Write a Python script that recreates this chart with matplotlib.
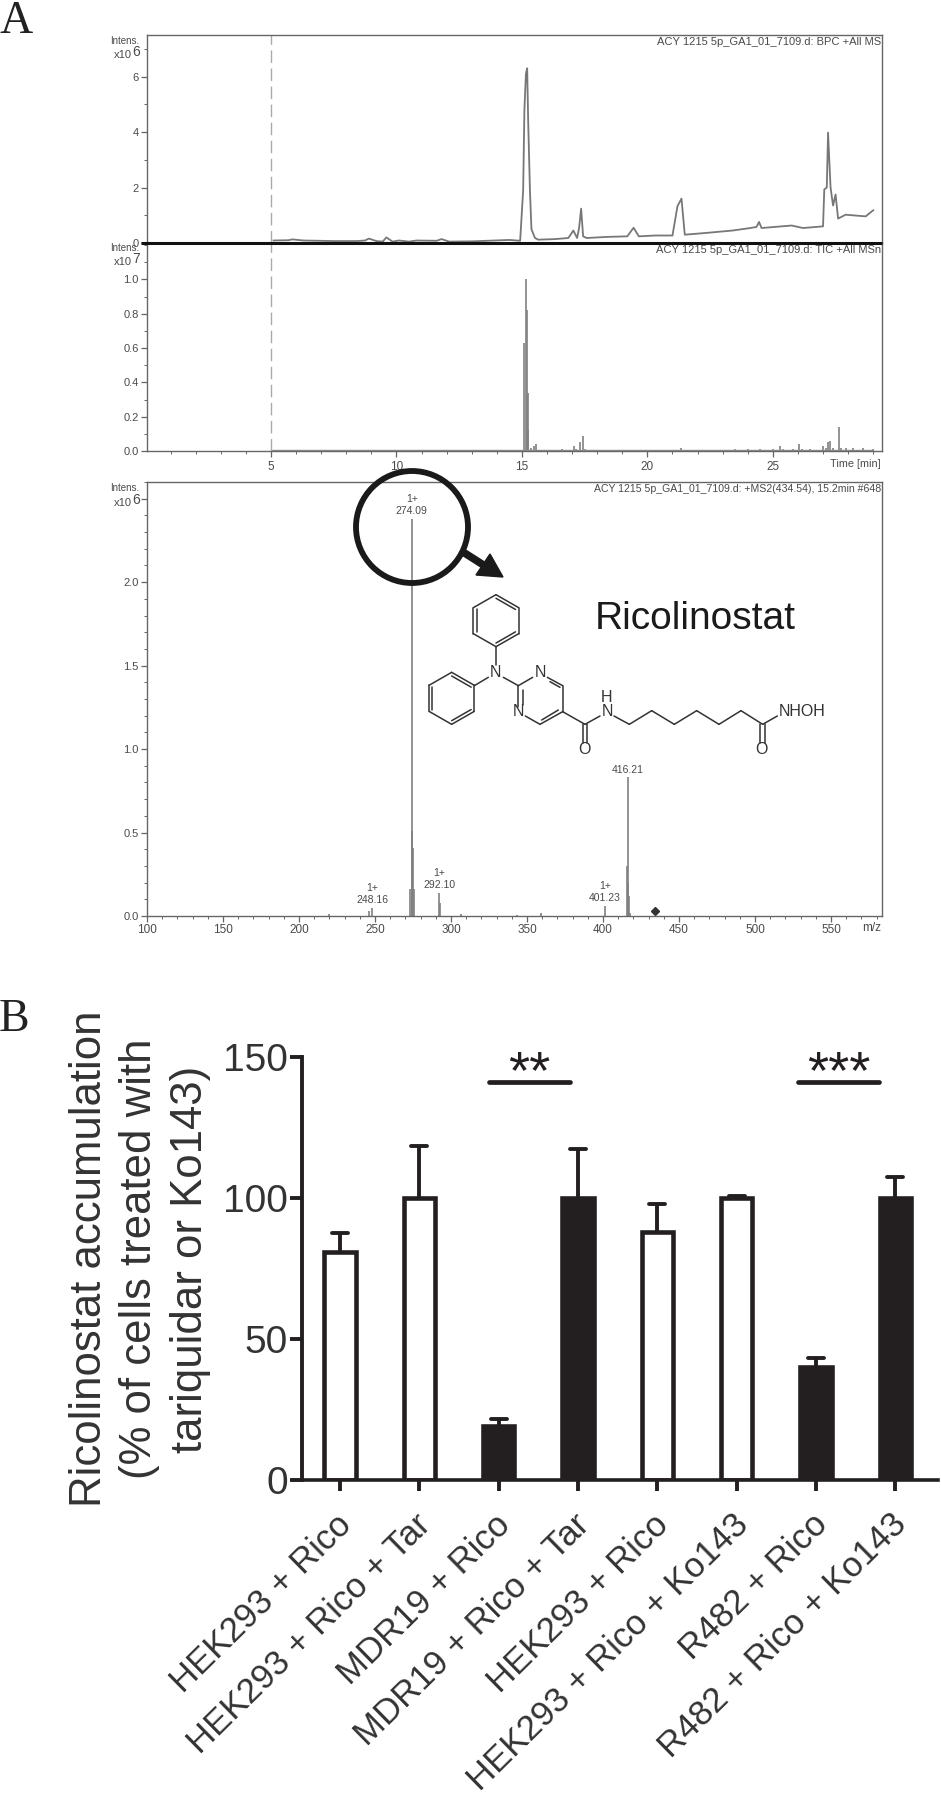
import matplotlib
matplotlib.use('Agg')
import matplotlib.pyplot as plt
from matplotlib.patches import Circle, Polygon
from matplotlib.ticker import MultipleLocator
from matplotlib.transforms import ScaledTranslation

W, H = 941, 1800
GREY = '#777777'
AXC = '#666666'
TXT = '#4a4a4a'
DARK = '#231f20'

plt.rcParams['font.family'] = ['Liberation Sans', 'DejaVu Sans']

# base peak chromatogram
bpc_t = [5.1, 5.7, 5.85, 6.3, 7.5, 8.4, 8.75, 8.9, 9.2, 9.45, 9.6, 9.85, 10.1, 10.5, 10.8, 11.6, 11.8, 12.1,
         13.0, 14.5, 14.93, 15.05, 15.1, 15.16, 15.21, 15.25, 15.32, 15.38, 15.52, 15.65, 16.3, 16.85, 17.05,
         17.2, 17.28, 17.36, 17.44, 17.58, 18.4, 19.2, 19.45, 19.66, 20.3, 21.0, 21.2, 21.36, 21.49, 22.3,
         23.4, 24.1, 24.35, 24.45, 24.55, 25.75, 26.2, 27.0, 27.05, 27.15, 27.2, 27.3, 27.4, 27.5, 27.6, 27.9,
         28.7, 29.0]
bpc_v = [0.09, 0.1, 0.13, 0.09, 0.07, 0.07, 0.09, 0.16, 0.07, 0.05, 0.2, 0.05, 0.09, 0.05, 0.09, 0.08, 0.14, 0.05,
         0.06, 0.11, 0.08, 1.9, 4.8, 6.1, 6.3, 4.4, 1.9, 0.5, 0.18, 0.12, 0.14, 0.18, 0.45,
         0.18, 0.55, 1.24, 0.24, 0.18, 0.22, 0.24, 0.55, 0.24, 0.27, 0.27, 1.33, 1.6, 0.3, 0.36,
         0.45, 0.54, 0.58, 0.76, 0.54, 0.63, 0.54, 0.6, 1.93, 2.0, 3.98, 2.0, 1.35, 1.75, 0.88, 1.02,
         0.96, 1.18]

# total ion chromatogram
tic_t = [5.1, 5.5, 6.0, 6.5, 7.0, 7.5, 8.0, 8.5, 9.0, 9.5, 10.0, 10.5, 11.0, 11.5, 12.0, 12.5, 13.0, 13.5, 14.0,
         14.5, 15.0, 15.1, 15.16, 15.19, 15.23, 15.26, 15.35, 15.47, 15.55, 15.8, 16.2, 16.6, 17.08, 17.15, 17.3,
         17.42, 17.5, 17.8, 18.3, 18.8, 19.3, 19.8, 20.3, 20.8, 21.35, 21.5, 22.0, 22.5, 23.0, 23.5, 24.0, 24.5,
         25.0, 25.3, 25.4, 25.8, 26.05, 26.15, 26.5, 26.98, 27.1, 27.2, 27.29, 27.4, 27.63, 27.7, 27.9, 28.2,
         28.6, 29.0]
tic_v = [0.006, 0.007, 0.006, 0.008, 0.006, 0.007, 0.006, 0.008, 0.007, 0.006, 0.008, 0.006, 0.007, 0.008, 0.006,
         0.007, 0.008, 0.006, 0.007, 0.006, 0.008, 0.63, 1.0, 0.82, 0.34, 0.12, 0.02, 0.03, 0.04, 0.008, 0.007,
         0.01, 0.03, 0.012, 0.05, 0.085, 0.012, 0.008, 0.007, 0.008, 0.007, 0.008, 0.007, 0.008, 0.016, 0.008,
         0.007, 0.008, 0.007, 0.012, 0.011, 0.012, 0.011, 0.03, 0.012, 0.011, 0.04, 0.012, 0.012, 0.03, 0.02,
         0.055, 0.06, 0.02, 0.14, 0.02, 0.016, 0.016, 0.016, 0.012]

# ms2 spectrum
ms_mz = [219.8, 246.2, 248.16, 273.3, 274.09, 274.4, 275.3, 275.6, 292.1, 292.7, 306.8, 343.6, 359.0, 401.23,
         415.5, 416.21, 416.5, 417.2, 417.8]
ms_int = [0.01, 0.03, 0.05, 0.16, 2.38, 0.51, 0.41, 0.16, 0.14, 0.08, 0.01, 0.008, 0.018, 0.06,
          0.3, 0.83, 0.2, 0.12, 0.02]
ms_labels = [('1+\n248.16', 248.16), ('1+\n292.10', 292.1), ('1+\n401.23', 401.23)]
precursor_mz = 433.9
precursor_int = 0.03

# bar chart
bar_names = ['HEK293 + Rico', 'HEK293 + Rico + Tar', 'MDR19 + Rico', 'MDR19 + Rico + Tar',
             'HEK293 + Rico', 'HEK293 + Rico + Ko143', 'R482 + Rico', 'R482 + Rico + Ko143']
bar_vals = [81, 100, 19, 100, 88, 100, 40, 100]
bar_tops = [87.6, 118.4, 21.5, 117.5, 98, 100.7, 43.3, 107.4]
bar_dark = [False, False, True, True, False, False, True, True]

fig = plt.figure(figsize=(W / 100, H / 100), dpi=100, facecolor='white')


def px_axes(left, top, right, bottom):
    return fig.add_axes([left / W, 1 - bottom / H, (right - left) / W, (bottom - top) / H])


def ms_style(ax):
    for s in ax.spines.values():
        s.set_color(AXC)
        s.set_linewidth(1.0)
    ax.tick_params(which='major', length=4, width=0.9, color=AXC, labelcolor=TXT, labelsize=8, pad=2)
    ax.tick_params(which='minor', length=2, width=0.7, color=AXC)


# top chromatogram
ax1 = px_axes(147, 35, 882, 243)
ms_style(ax1)
ax1.plot(bpc_t, bpc_v, color=GREY, lw=1.3)
ax1.set_xlim(0.06, 29.35)
ax1.set_ylim(0, 7.5)
ax1.set_xticks([])
ax1.set_yticks([0, 2, 4, 6])
ax1.yaxis.set_minor_locator(MultipleLocator(1))
ax1.axvline(5, color='#aaaaaa', lw=1, dashes=(9, 4))

# middle chromatogram
ax2 = px_axes(147, 243, 882, 451)
ms_style(ax2)
ax2.vlines(tic_t, 0, tic_v, color='#808080', lw=1.2)
ax2.plot([tic_t[0], tic_t[-1]], [min(tic_v), min(tic_v)], color='#909090', lw=1.0)
ax2.set_xlim(0.06, 29.35)
ax2.set_ylim(0, 1.212)
ax2.set_xticks([5, 10, 15, 20, 25])
ax2.xaxis.set_minor_locator(MultipleLocator(1))
ax2.set_yticks([0, 0.2, 0.4, 0.6, 0.8, 1.0])
ax2.set_yticklabels(['0.0', '0.2', '0.4', '0.6', '0.8', '1.0'])
ax2.yaxis.set_minor_locator(MultipleLocator(0.1))
ax2.axvline(5, color='#aaaaaa', lw=1, dashes=(9, 4))
ax2.spines['top'].set_visible(False)
ax2.tick_params(axis='x', pad=3, labelsize=8.5)

# spectrum
ax3 = px_axes(147, 482, 882, 916)
ms_style(ax3)
ax3.vlines(ms_mz, 0, ms_int, color='#808080', lw=1.2)
ax3.plot([precursor_mz], [precursor_int], marker='D', ms=4.5, color='#333333', ls='none')
ax3.set_xlim(100, 583.5)
ax3.set_ylim(0, 2.6)
ax3.set_xticks(range(100, 551, 50))
ax3.xaxis.set_minor_locator(MultipleLocator(10))
ax3.set_yticks([0, 0.5, 1, 1.5, 2, 2.5])
ax3.set_yticklabels(['0.0', '0.5', '1.0', '1.5', '2.0', ''])
ax3.yaxis.set_minor_locator(MultipleLocator(0.1))
ax3.tick_params(axis='x', pad=2, labelsize=8.5)
for lab, mz in ms_labels:
    y = ms_int[ms_mz.index(mz)]
    ax3.annotate(lab, (mz, y), xytext=(0, 2), textcoords='offset points', ha='center', va='bottom',
                 fontsize=7.5, color=TXT, linespacing=1.25)
ax3.annotate('1+\n274.09', (274.09, 2.38), xytext=(0, 2), textcoords='offset points', ha='center', va='bottom',
             fontsize=7.5, color=TXT, linespacing=1.25)
ax3.annotate('416.21', (416.21, 0.83), xytext=(0, 2), textcoords='offset points', ha='center', va='bottom',
             fontsize=7.5, color=TXT)

# bars
ax4 = px_axes(302, 1057, 938, 1480)
ax4.set_xlim(0.52, 8.54)
ax4.set_ylim(0, 150)
xs = list(range(1, 9))
for x, v, top, dark in zip(xs, bar_vals, bar_tops, bar_dark):
    ax4.plot([x, x], [v, top], color=DARK, lw=2.8, solid_capstyle='butt', zorder=1)
    ax4.plot([x - 0.1, x + 0.1], [top, top], color=DARK, lw=2.8, solid_capstyle='round', zorder=1)
    ax4.bar(x, v, width=0.395, facecolor=DARK if dark else 'white', edgecolor=DARK, linewidth=3.3, zorder=2)
for s in ['top', 'right']:
    ax4.spines[s].set_visible(False)
ax4.spines['left'].set_linewidth(2.8)
ax4.spines['bottom'].set_linewidth(2.6)
ax4.spines['left'].set_color(DARK)
ax4.spines['bottom'].set_color(DARK)
ax4.set_yticks([0, 50, 100, 150])
ax4.set_xticks(xs)
ax4.set_xticklabels(bar_names, rotation=44.5, ha='right', rotation_mode='anchor', fontsize=25, color='#333333')
ax4.tick_params(axis='y', length=9, width=2.8, labelsize=28, labelcolor='#333333', color=DARK, pad=1)
ax4.tick_params(axis='x', length=8, width=2.8, color=DARK, pad=12)
# tick_params resets the label transform, so the shift has to come after it
shift = ScaledTranslation(-5 / 100, 0, fig.dpi_scale_trans)
for lab in ax4.get_xticklabels():
    lab.set_transform(lab.get_transform() + shift)
ax4.plot([2.88, 3.90], [141.2, 141.2], color=DARK, lw=3.4, solid_capstyle='round', clip_on=False)
ax4.plot([6.78, 7.79], [141.2, 141.2], color=DARK, lw=3.4, solid_capstyle='round', clip_on=False)
ax4.text(3.39, 144, '**', ha='center', va='center', fontsize=39, color=DARK)
ax4.text(7.29, 144, '***', ha='center', va='center', fontsize=39, color=DARK)

# overlay in pixel coordinates for the annotations
ov = fig.add_axes([0, 0, 1, 1], zorder=10)
ov.set_xlim(0, W)
ov.set_ylim(H, 0)
ov.axis('off')
ov.patch.set_alpha(0)

ov.text(140, 1259, 'Ricolinostat accumulation\n(% of cells treated with\ntariquidar or Ko143)',
        fontsize=31.5, color='#333333', linespacing=1.3, rotation=90, ha='center', va='center', multialignment='center')

ov.plot([141, 882], [243, 243], color='#111111', lw=2.2, solid_capstyle='butt')

ov.text(16, 22, 'A', family='Liberation Serif', fontsize=33, color='#222222', ha='center', va='center')
ov.text(14, 1020, 'B', family='Liberation Serif', fontsize=33, color='#222222', ha='center', va='center')

for y1, y2, exp in [(41, 55, '6'), (248, 262, '7'), (488, 503, '6')]:
    ov.text(139, y1, 'Intens.', fontsize=7, color=TXT, ha='right', va='center')
    ov.text(132, y2, 'x10', fontsize=8, color=TXT, ha='right', va='center')
    ov.text(132, y2 - 3, exp, fontsize=10, color=TXT, ha='left', va='center')

ov.text(881, 42, 'ACY 1215 5p_GA1_01_7109.d: BPC +All MS', fontsize=8, color=TXT, ha='right', va='center')
ov.text(881, 250, 'ACY 1215 5p_GA1_01_7109.d: TIC +All MSn', fontsize=8, color=TXT, ha='right', va='center')
ov.text(881, 489, 'ACY 1215 5p_GA1_01_7109.d: +MS2(434.54), 15.2min #648', fontsize=7.6, color=TXT, ha='right', va='center')
ov.text(881, 464, 'Time [min]', fontsize=7.8, color=TXT, ha='right', va='center')
ov.text(881, 928, 'm/z', fontsize=8.5, color=TXT, ha='right', va='center')

# magnifier
ov.add_patch(Circle((412, 527), 56, fill=False, ec='#1a1a1a', lw=4.2))
ov.plot([463, 485], [552, 566], color='#1a1a1a', lw=5.5, solid_capstyle='butt')
ov.add_patch(Polygon([(476, 575), (490, 554), (503, 577)], closed=True, fc='#1a1a1a', ec='#1a1a1a'))

ov.text(595, 629, 'Ricolinostat', fontsize=28, color='#1a1a1a', ha='left', va='baseline')


# structure drawing, coordinates from the crop of the reference
def sx(z):
    return 340 + z / 3


def sy(z):
    return 460 + z / 3


def bond(a, b, lw=1.1):
    ov.plot([sx(a[0]), sx(b[0])], [sy(a[1]), sy(b[1])], color='#333333', lw=lw, solid_capstyle='round')


def inner(a, b, c=None, off=0.14):
    # short second line of a double bond, pulled toward the ring centre
    ax_, ay_ = a[0] + (c[0] - a[0]) * off, a[1] + (c[1] - a[1]) * off
    bx_, by_ = b[0] + (c[0] - b[0]) * off, b[1] + (c[1] - b[1]) * off
    bond((ax_, ay_), (bx_, by_))


def ring(c, doubles):
    r = 78
    h = 68
    pts = [(c[0], c[1] - r), (c[0] + h, c[1] - r / 2), (c[0] + h, c[1] + r / 2),
           (c[0], c[1] + r), (c[0] - h, c[1] + r / 2), (c[0] - h, c[1] - r / 2)]
    for i in range(6):
        bond(pts[i], pts[(i + 1) % 6])
    for i in doubles:
        inner(pts[i], pts[(i + 1) % 6], c)
    return pts


ring((468, 482), [0, 2, 4])
ring((335, 715), [0, 2, 4])
bond((535, 677), (578, 652))
bond((622, 652), (668, 677))
bond((668, 677), (668, 755))
bond((668, 755), (600, 793))
bond((600, 793), (556, 768))
bond((535, 740), (535, 677))
bond((548, 735), (548, 690))
bond((630, 665), (660, 682))
bond((655, 750), (605, 780))
bond((468, 560), (468, 615))
bond((403, 677), (445, 652))
bond((490, 652), (535, 677))
bond((668, 755), (735, 793))
bond((735, 793), (780, 768))
bond((728, 793), (728, 850))
bond((742, 793), (742, 850))
chain = [(822, 768), (868, 793), (935, 752), (1003, 793), (1070, 752), (1137, 793), (1203, 752), (1268, 793), (1312, 768)]
for a, b in zip(chain[:-1], chain[1:]):
    bond(a, b)
bond((1261, 793), (1261, 850))
bond((1275, 793), (1275, 850))
for lab, zx, zy in [('N', 467, 637), ('N', 600, 638), ('N', 535, 755), ('N', 802, 755), ('H', 800, 712),
                    ('O', 733, 868), ('O', 1265, 868)]:
    ov.text(sx(zx), sy(zy), lab, fontsize=11.5, color='#333333', ha='center', va='center')
ov.text(sx(1316), sy(755), 'NHOH', fontsize=11.5, color='#333333', ha='left', va='center')

fig.savefig('out.png', dpi=100)
